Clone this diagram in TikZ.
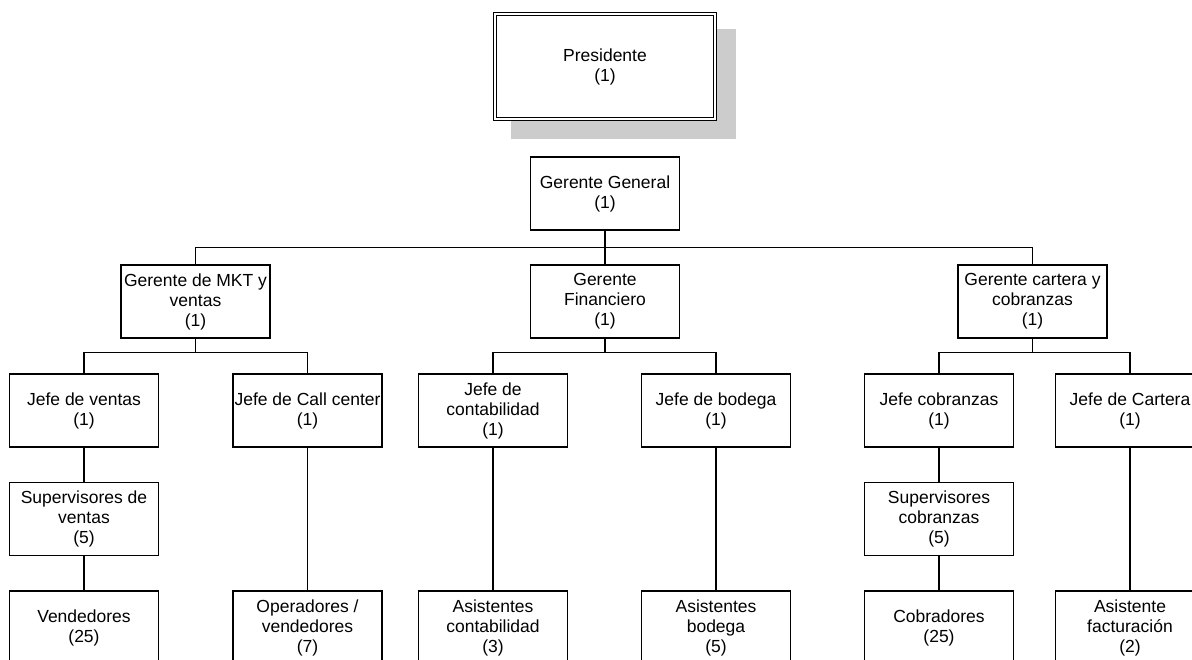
\documentclass[tikz,border=0pt]{standalone}
\usepackage{fontspec}
\setmainfont{Liberation Sans}
\begin{document}
\begin{tikzpicture}[x=1pt,y=-1pt,
  box/.style={draw=black,line width=1.2pt,fill=white,minimum width=149pt,minimum height=73pt,
    inner sep=0pt,align=center,font=\fontsize{17.5}{20}\selectfont},
  link/.style={draw=black,line width=1.2pt}]
\useasboundingbox (0,0) rectangle (1192,659);
% Presidente with shadow and double border
\fill[black!20] (511,29) rectangle (736,139);
\node[draw=black,line width=1pt,double,double distance=1.6pt,fill=white,minimum width=220pt,minimum height=105.5pt,inner sep=0pt,align=center,font=\fontsize{17.5}{20}\selectfont] (pres) at (605,66.5) {Presidente\\(1)};
% level 0
\node[box] (gg) at (605,193.5) {Gerente General\\(1)};
% level 1
\node[box] (mkt) at (195.5,301.5) {Gerente de MKT y\\ventas\\(1)};
\node[box] (fin) at (605,301.5) {Gerente\\Financiero\\(1)};
\node[box] (car) at (1032.5,301.5) {Gerente cartera y\\cobranzas\\(1)};
% level 2
\node[box] (jv) at (84,410.5) {Jefe de ventas\\(1)};
\node[box] (jcc) at (307.5,410.5) {Jefe de Call center\\(1)};
\node[box] (jc) at (493,410.5) {Jefe de\\contabilidad\\(1)};
\node[box] (jb) at (716,410.5) {Jefe de bodega\\(1)};
\node[box] (jco) at (939,410.5) {Jefe cobranzas\\(1)};
\node[box] (jca) at (1130,410.5) {Jefe de Cartera\\(1)};
% level 3
\node[box] (sv) at (84,519) {Supervisores de\\ventas\\(5)};
\node[box] (sc) at (939,519) {Supervisores\\cobranzas\\(5)};
% level 4
\node[box] (ve) at (84,627.5) {Vendedores\\(25)};
\node[box] (op) at (307.5,627.5) {Operadores /\\vendedores\\(7)};
\node[box] (ac) at (493,627.5) {Asistentes\\contabilidad\\(3)};
\node[box] (ab) at (716,627.5) {Asistentes\\bodega\\(5)};
\node[box] (cb) at (939,627.5) {Cobradores\\(25)};
\node[box] (af) at (1130,627.5) {Asistente\\facturación\\(2)};
% connectors
\draw[link] (gg.south) -- ++(0,17) coordinate (j0);
\draw[link] (mkt.north) |- (j0) -| (car.north);
\draw[link] (j0) -- (fin.north);
\draw[link] (mkt.south) -- ++(0,14) coordinate (j1);
\draw[link] (jv.north) |- (j1) -| (jcc.north);
\draw[link] (fin.south) -- ++(0,14) coordinate (j2);
\draw[link] (jc.north) |- (j2) -| (jb.north);
\draw[link] (car.south) -- ++(0,14) coordinate (j3);
\draw[link] (jco.north) |- (j3) -| (jca.north);
\draw[link] (jv) -- (sv);
\draw[link] (sv) -- (ve);
\draw[link] (jcc) -- (op);
\draw[link] (jc) -- (ac);
\draw[link] (jb) -- (ab);
\draw[link] (jco) -- (sc);
\draw[link] (sc) -- (cb);
\draw[link] (jca) -- (af);
\end{tikzpicture}
\end{document}
